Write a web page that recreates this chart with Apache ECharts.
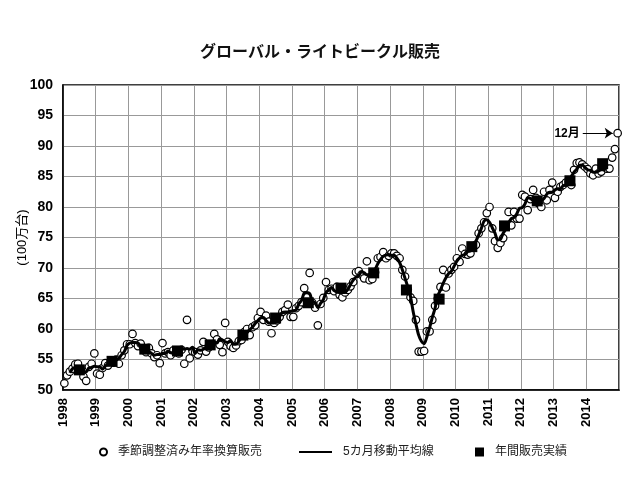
<!DOCTYPE html>
<html>
<head>
<meta charset="utf-8">
<script src="https://cdn.jsdelivr.net/npm/echarts@6/dist/echarts.min.js"></script>
<style>html,body{margin:0;padding:0;background:#fff;}#c{width:640px;height:480px;}</style>
</head>
<body>
<div id="c"></div>
<script>
// Year tick labels (x axis starts at Jan 1998, one unit = one month)
const yearLabels = [1998,1999,2000,2001,2002,2003,2004,2005,2006,2007,2008,2009,2010,2011,2012,2013,2014];

// Seasonally adjusted annualised monthly sales (million units), Jan 1998 .. Dec 2014
const saarMonthly = [
  51.1, 52.4, 53.0, 53.5, 54.2, 54.3, 53.3, 52.2, 51.5, 53.8, 54.3, 56.0,
  52.7, 52.5, 53.6, 54.4, 54.0, 54.8, 54.5, 55.0, 54.3, 55.7, 56.5, 57.5,
  57.5, 59.2, 57.7, 57.2, 57.6, 56.8, 56.2, 56.9, 56.0, 55.4, 55.7, 54.4,
  57.7, 56.0, 56.2, 55.7, 56.5, 56.2, 56.0, 56.6, 54.3, 61.5, 55.2, 56.4,
  56.2, 55.8, 56.5, 57.9, 56.3, 57.0, 57.5, 59.2, 58.3, 57.4, 56.2, 61.0,
  57.9, 57.2, 56.9, 57.3, 58.0, 58.2, 59.5, 60.0, 59.0, 60.3, 60.6, 61.8,
  62.8, 61.5, 62.2, 61.2, 59.3, 61.0, 61.4, 62.0, 62.8, 63.1, 64.0, 62.0,
  62.0, 63.4, 63.8, 64.4, 66.7, 65.2, 69.2, 64.3, 63.5, 60.6, 64.1, 65.1,
  67.7, 66.4, 66.6, 66.2, 66.9, 65.6, 65.2, 66.0, 66.4, 67.0, 67.7, 69.3,
  69.5, 68.9, 68.3, 71.1, 68.0, 68.2, 69.3, 71.6, 71.8, 72.6, 71.6, 72.0,
  72.4, 72.4, 72.0, 71.6, 69.7, 68.6, 66.5, 65.2, 64.6, 61.5, 56.3, 56.3,
  56.4, 59.6, 59.6, 61.5, 63.8, 65.0, 66.9, 69.7, 66.8, 69.1, 69.7, 70.2,
  71.6, 71.0, 73.2, 72.3, 72.2, 72.4, 73.4, 73.8, 75.7, 76.5, 77.5, 79.0,
  80.0, 76.5, 74.4, 73.3, 74.1, 74.9, 76.8, 79.2, 77.0, 79.2, 78.1, 78.1,
  82.0, 81.7, 79.5, 81.3, 82.8, 81.5, 80.6, 80.0, 82.5, 81.1, 82.8, 84.0,
  81.5, 82.5, 83.3, 83.6, 84.0, 84.2, 83.6, 86.1, 87.2, 87.3, 87.0, 86.6,
  86.2, 85.5, 85.2, 86.3, 85.5, 85.8, 86.6, 86.3, 86.3, 88.1, 89.5, 92.1
];

// 5-month moving average line, Mar 1998 .. Aug 2014
const maFirstMonth = 2;
const movingAvg5 = [
  52.8, 53.5, 53.7, 53.5, 53.1, 53.0, 53.0, 53.6, 53.7, 53.9,
  53.8, 53.8, 53.4, 53.9, 54.3, 54.5, 54.5, 54.9, 55.2, 55.8, 56.3, 57.3,
  57.7, 57.8, 57.8, 57.7, 57.1, 56.9, 56.7, 56.3, 56.0, 55.7, 55.8, 55.8,
  56.0, 56.0, 56.4, 56.1, 56.1, 56.2, 55.9, 56.9, 56.7, 56.8, 56.7, 57.0,
  56.0, 56.6, 56.5, 56.7, 57.0, 57.6, 57.7, 57.9, 57.7, 58.4, 58.2, 57.9,
  57.8, 58.1, 57.5, 57.5, 58.0, 58.6, 58.9, 59.4, 59.9, 60.3, 60.9, 61.4,
  61.8, 61.9, 61.4, 61.0, 61.0, 61.0, 61.3, 62.1, 62.7, 62.8, 62.8, 62.9,
  63.0, 63.1, 64.1, 64.7, 65.9, 66.0, 65.8, 64.6, 64.3, 63.5, 64.2, 64.8,
  66.0, 66.4, 66.8, 66.3, 66.1, 66.0, 66.0, 66.0, 66.5, 67.3, 68.0, 68.5,
  68.7, 69.4, 69.2, 68.9, 69.0, 69.6, 69.8, 70.7, 71.4, 71.9, 72.1, 72.2,
  72.1, 72.1, 71.6, 70.9, 69.7, 68.3, 66.9, 65.3, 62.8, 60.8, 59.0, 58.0,
  57.6, 58.7, 60.2, 61.9, 63.4, 65.4, 66.4, 67.5, 68.4, 69.1, 69.5, 70.3,
  71.1, 71.7, 72.1, 72.2, 72.7, 72.8, 73.5, 74.4, 75.4, 76.5, 77.7, 77.9,
  77.5, 76.6, 75.7, 74.6, 74.7, 75.7, 76.4, 77.4, 78.1, 78.3, 78.9, 79.8,
  79.9, 80.5, 81.5, 81.4, 81.1, 81.2, 81.5, 81.1, 81.4, 82.1, 82.4, 82.4,
  82.8, 83.0, 83.0, 83.5, 83.7, 84.3, 85.0, 85.7, 86.2, 86.8, 86.9, 86.5,
  86.1, 86.0, 85.7, 85.7, 85.9, 86.1, 86.1, 86.6
];

// Annual sales (million units)
const annualSales = [53.3, 54.7, 56.7, 56.4, 57.4, 59.0, 61.8, 64.3, 66.7, 69.2, 66.4, 64.9, 73.5, 76.9, 81.0, 84.3, 87.1];

const nameSaar = '季節調整済み年率換算販売';
const nameMa = '5カ月移動平均線';
const nameAnnual = '年間販売実績';

const totalMonths = yearLabels.length * 12;
const lastValue = saarMonthly[saarMonthly.length - 1];

const chart = echarts.init(document.getElementById('c'), null, {renderer: 'canvas'});
const FF = "'Liberation Sans', 'Noto Sans CJK JP', sans-serif";
const legendText = {fontSize: 12, color: '#222', fontFamily: FF, padding: [0, 0, 0, 6]};

chart.setOption({
  animation: false,
  textStyle: {fontFamily: FF},
  title: {
    text: 'グローバル・ライトビークル販売',
    left: 'center', top: 40,
    textStyle: {fontSize: 16, fontWeight: 'bold', color: '#111', fontFamily: FF}
  },
  legend: [
    {left: 94, top: 441, data: [{name: nameSaar, icon: 'circle'}], itemWidth: 7, itemHeight: 7, textStyle: legendText},
    {left: 294, top: 441, data: [{name: nameMa, icon: 'rect'}], itemWidth: 33, itemHeight: 2, textStyle: legendText},
    {left: 470, top: 441, data: [{name: nameAnnual, icon: 'rect'}], itemWidth: 9, itemHeight: 9, textStyle: legendText}
  ],
  grid: {left: 63, right: 21, top: 85, bottom: 90, show: true, borderColor: '#000', borderWidth: 1.5, backgroundColor: 'transparent'},
  xAxis: {
    type: 'value', min: 0, max: totalMonths, interval: 12,
    axisLine: {show: true, lineStyle: {color: '#000', width: 1.5}},
    axisTick: {show: false},
    splitLine: {show: true, lineStyle: {color: '#999', width: 1}},
    axisLabel: {
      rotate: 90, fontWeight: 'bold', fontSize: 13, color: '#000', margin: 8,
      showMaxLabel: false,
      formatter: v => (yearLabels[v / 12] !== undefined ? String(yearLabels[v / 12]) : '')
    }
  },
  yAxis: {
    type: 'value', min: 50, max: 100, interval: 5,
    name: '(100万台)', nameLocation: 'middle', nameGap: 34, nameMoveOverlap: false,
    nameTextStyle: {fontSize: 13, color: '#000'},
    axisLine: {show: true, lineStyle: {color: '#000', width: 1.5}},
    axisTick: {show: false},
    splitLine: {show: true, lineStyle: {color: '#999', width: 1}},
    axisLabel: {fontWeight: 'bold', fontSize: 14, color: '#000', margin: 10}
  },
  series: [
    {
      name: nameSaar, type: 'scatter', z: 2,
      symbol: 'circle', symbolSize: 7.5,
      itemStyle: {color: '#fff', borderColor: '#000', borderWidth: 1.2, opacity: 1},
      data: saarMonthly.map((v, i) => [i + 0.5, v]),
      markLine: {
        silent: true, animation: false,
        symbol: ['none', 'arrow'], symbolSize: 8,
        lineStyle: {color: '#000', width: 1, type: 'solid'},
        label: {show: true, position: 'start', formatter: '12月', fontWeight: 'bold', fontSize: 12, color: '#000', distance: 3},
        emphasis: {disabled: true},
        data: [[{coord: [totalMonths - 13.3, lastValue]}, {coord: [totalMonths - 2.3, lastValue]}]]
      }
    },
    {
      name: nameMa, type: 'line', z: 3,
      symbol: 'none', smooth: 0.3,
      lineStyle: {color: '#000', width: 3},
      itemStyle: {color: '#000'},
      data: movingAvg5.map((v, k) => [k + maFirstMonth + 0.5, v])
    },
    {
      name: nameAnnual, type: 'scatter', z: 4,
      symbol: 'rect', symbolSize: 11,
      itemStyle: {color: '#000', opacity: 1},
      data: annualSales.map((v, k) => [k * 12 + 6, v])
    }
  ]
});
</script>
</body>
</html>
